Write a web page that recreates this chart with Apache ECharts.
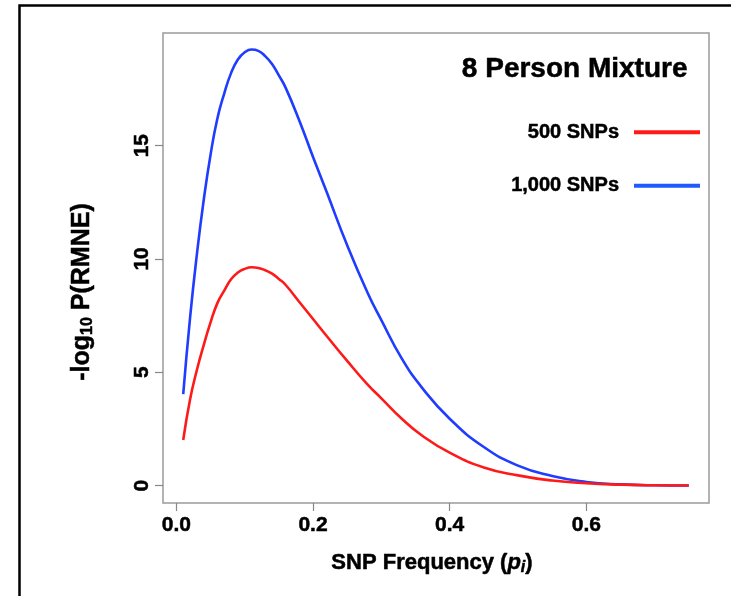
<!DOCTYPE html>
<html>
<head>
<meta charset="utf-8">
<script src="https://cdn.jsdelivr.net/npm/echarts@6/dist/echarts.min.js"></script>
<style>
html,body{margin:0;padding:0;background:#fff;}
#chart{width:731px;height:596px;}
</style>
</head>
<body>
<div id="chart"></div>
<script>
// SNP frequency (x values)
var snpFreq = [0.01,0.02,0.03,0.04,0.05,0.06,0.07,0.08,0.09,0.10,0.11,0.12,0.13,0.14,0.15,0.16,0.18,0.20,0.22,0.25,0.28,0.30,0.33,0.36,0.40,0.45,0.50,0.55,0.60,0.65,0.70,0.75];
// -log10 P(RMNE), 500 SNPs
var snps500 = [2.01,3.8,5.1,6.2,7.2,8.05,8.6,9.1,9.4,9.56,9.63,9.6,9.5,9.35,9.12,8.85,8.1,7.35,6.6,5.5,4.45,3.85,2.95,2.2,1.45,0.8,0.45,0.22,0.1,0.04,0.01,0.0];
// -log10 P(RMNE), 1,000 SNPs
var snps1000 = [4.03,7.4,10.2,12.6,14.6,16.2,17.3,18.2,18.8,19.12,19.24,19.18,18.95,18.6,18.1,17.55,16.1,14.5,12.95,10.6,8.5,7.3,5.6,4.3,2.95,1.7,0.88,0.42,0.16,0.05,0.01,0.0];
var xTicks = [0, 0.2, 0.4, 0.6];
var yTicks = [0, 5, 10, 15];
var seriesNames = ['500 SNPs', '1,000 SNPs'];
var titleText = '8 Person Mixture';

var FONT = "'Liberation Sans', Arial, Helvetica, sans-serif";
var EMB = {textBorderColor: '#000', textBorderWidth: 0.5};
var GEMB = {fill: '#000', stroke: '#000', lineWidth: 0.5};

function pairs(xs, ys) { return xs.map(function (x, i) { return [x, ys[i]]; }); }

var chart = echarts.init(document.getElementById('chart'), null, {renderer: 'canvas'});
chart.setOption({
  backgroundColor: '#fff',
  animation: false,
  title: {
    text: titleText,
    right: 38,
    top: 50,
    textStyle: Object.assign({fontFamily: FONT, fontWeight: 'bold', fontSize: 28, color: '#000'}, EMB)
  },
  legend: {
    orient: 'vertical',
    right: 26,
    top: 117,
    align: 'right',
    itemWidth: 66,
    itemHeight: 4,
    itemGap: 33,
    icon: 'rect',
    data: [
      {name: seriesNames[0], itemStyle: {color: '#ff1a1a'}},
      {name: seriesNames[1], itemStyle: {color: '#1f5aff'}}
    ],
    textStyle: Object.assign({fontFamily: FONT, fontWeight: 'bold', fontSize: 20, color: '#000', padding: [6, 10, 0, 0]}, EMB)
  },
  grid: {
    left: 163, right: 22, top: 33, bottom: 93,
    show: true, borderColor: '#9a9a9a', borderWidth: 1.5, backgroundColor: 'transparent'
  },
  xAxis: {
    type: 'value',
    min: -0.0196, max: 0.7796,
    splitLine: {show: false},
    axisLine: {show: false, onZero: false},
    axisTick: {show: true, customValues: xTicks, length: 8, lineStyle: {color: '#888', width: 1.2}},
    axisLabel: Object.assign({
      customValues: xTicks, margin: 12,
      formatter: function (v) { return v.toFixed(1); },
      fontFamily: FONT, fontWeight: 'bold', fontSize: 21, color: '#000'
    }, EMB)
  },
  yAxis: {
    type: 'value',
    min: -0.77, max: 19.97,
    splitLine: {show: false},
    axisLine: {show: false, onZero: false},
    axisTick: {show: true, customValues: yTicks, length: 8, lineStyle: {color: '#888', width: 1.2}},
    axisLabel: Object.assign({
      customValues: yTicks, rotate: 90, margin: 10,
      fontFamily: FONT, fontWeight: 'bold', fontSize: 21, color: '#000'
    }, EMB)
  },
  graphic: [
    {type: 'rect', silent: true, z: 100,
     shape: {x: 19.5, y: 5.5, width: 900, height: 800},
     style: {fill: 'none', stroke: '#000', lineWidth: 2.5}},
    {type: 'text', x: 432, y: 563, z: 100,
     style: {
       text: '{b|SNP Frequency (}{i|p}{s|i}{b|)}',
       align: 'center', verticalAlign: 'middle',
       rich: {
         b: Object.assign({fontFamily: FONT, fontWeight: 'bold', fontSize: 22, lineHeight: 26, verticalAlign: 'middle'}, GEMB),
         i: Object.assign({fontFamily: FONT, fontWeight: 'bold', fontStyle: 'italic', fontSize: 22, lineHeight: 26, verticalAlign: 'middle'}, GEMB),
         s: Object.assign({fontFamily: FONT, fontWeight: 'bold', fontStyle: 'italic', fontSize: 16, lineHeight: 10, verticalAlign: 'bottom'}, GEMB)
       }
     }},
    {type: 'text', x: 82, y: 292, rotation: Math.PI / 2, z: 100,
     style: {
       text: '{b|-log}{s|10}{b| P(RMNE)}',
       align: 'center', verticalAlign: 'middle',
       rich: {
         b: Object.assign({fontFamily: FONT, fontWeight: 'bold', fontSize: 25, lineHeight: 28, verticalAlign: 'middle'}, GEMB),
         s: Object.assign({fontFamily: FONT, fontWeight: 'bold', fontSize: 16, lineHeight: 10, verticalAlign: 'bottom'}, GEMB)
       }
     }}
  ],
  series: [
    {
      name: seriesNames[1], type: 'line', data: pairs(snpFreq, snps1000),
      showSymbol: false, smooth: 0.5, z: 2,
      lineStyle: {color: '#1f3cff', width: 2.6}, itemStyle: {color: '#1f5aff'}
    },
    {
      name: seriesNames[0], type: 'line', data: pairs(snpFreq, snps500),
      showSymbol: false, smooth: 0.5, z: 3,
      lineStyle: {color: '#ff1a1a', width: 2.6}, itemStyle: {color: '#ff1a1a'}
    }
  ]
});
</script>
</body>
</html>
